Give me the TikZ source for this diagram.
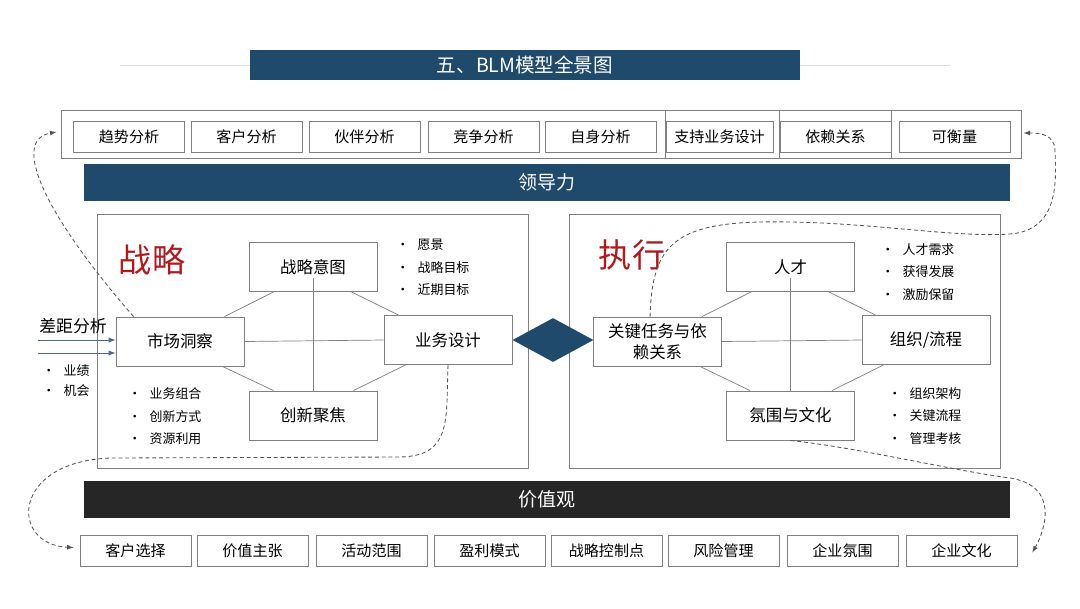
\documentclass[tikz,border=0pt]{standalone}
\usepackage{fontspec}
\setmainfont{Noto Sans CJK SC}
\usetikzlibrary{calc,shapes.geometric}
\definecolor{blmblue}{HTML}{1F4A6B}
\definecolor{blmdark}{HTML}{262626}
\definecolor{blmred}{HTML}{B0191E}
\definecolor{boxgray}{HTML}{808080}
\definecolor{dashgray}{HTML}{555555}
\definecolor{gapblue}{HTML}{4F6B8C}
\tikzset{
  topbox/.style={draw=boxgray, line width=0.6pt, fill=white, minimum width=2.775cm, minimum height=0.775cm, inner sep=0pt, font=\fontsize{10.7}{12}\selectfont},
  panelbox/.style={draw=boxgray, line width=0.6pt, fill=white, minimum width=3.2cm, minimum height=1.225cm, inner sep=0pt, align=center, font=\fontsize{11.7}{15}\selectfont},
  band/.style={minimum width=23.15cm, minimum height=0.925cm, inner sep=0pt, text=white, font=\fontsize{13.5}{15}\selectfont},
  panel/.style={draw=boxgray, line width=0.6pt, minimum width=10.775cm, minimum height=6.35cm},
  bullets/.style={align=left, inner sep=0pt, anchor=west, font=\fontsize{9.2}{16}\selectfont},
  link/.style={draw=boxgray, line width=0.5pt},
  gaparrow/.style={draw=gapblue, line width=0.7pt, -latex},
  feedback/.style={draw=dashgray, line width=0.6pt, dash pattern=on 2.8pt off 2pt, -latex},
}
\begin{document}
\begin{tikzpicture}[x=0.025cm, y=-0.025cm]
\fill[white] (0,0) rectangle (1080,608);
\useasboundingbox (0,0) rectangle (1080,608);

\node[fill=blmblue, minimum width=13.75cm, minimum height=0.75cm, inner sep=0pt, text=white, font=\fontsize{13.9}{15}\selectfont] (title) at (525,65) {五、BLM模型全景图};
\draw[gray!25] ($(title.west)+(-130,0)$) -- (title.west);
\draw[gray!25] (title.east) -- ($(title.east)+(150,0)$);

\node[draw=boxgray, line width=0.6pt, minimum width=23.975cm, minimum height=1.2cm] (analysis) at (541.5,134) {};
\node[topbox] (trend) at (129,136.5) {趋势分析};
\node[topbox] (client) at (246.5,136.5) {客户分析};
\node[topbox] (partner) at (364.5,136.5) {伙伴分析};
\node[topbox] (rival) at (483.5,136.5) {竞争分析};
\node[topbox] (self) at (600.5,136.5) {自身分析};
\node[topbox, minimum width=2.675cm] (supp) at (719.5,136.5) {支持业务设计};
\node[topbox] (dep) at (835.5,136.5) {依赖关系};
\node[topbox] (measure) at (954.5,136.5) {可衡量};
\draw[boxgray, line width=0.6pt] (supp.west |- analysis.north) -- (supp.west |- analysis.south);
\draw[boxgray, line width=0.6pt] (dep.west |- analysis.north) -- (dep.west |- analysis.south);
\draw[boxgray, line width=0.6pt] (dep.east |- analysis.north) -- (dep.east |- analysis.south);

\node[band, fill=blmblue] (lead) at (547,182.5) {领导力};

\node[panel] (strategy) at (312.5,341) {};
\node[panel] (execution) at (784.5,341) {};
\node[text=blmred, font=\fontsize{23.5}{26}\selectfont] (stratlabel) at (152,260) {战略};
\node[text=blmred, font=\fontsize{23.5}{26}\selectfont] (execlabel) at (632,255) {执行};

\node[panelbox] (intent) at (313,267) {战略意图};
\node[panelbox] (market) at (180,341.5) {市场洞察};
\node[panelbox] (design) at (448,340) {业务设计};
\node[panelbox] (focus) at (313,415.5) {创新聚焦};
\draw[link] ($(intent.south)+(0,-14)$) -- (focus.north);
\draw[link] (market.east) -- (design.west);
\draw[link] ($(intent.south west)+(25,0)$) -- ($(market.north east)+(-20,0)$);
\draw[link] ($(intent.south east)+(-26,0)$) -- ($(design.north west)+(15,0)$);
\draw[link] ($(market.south east)+(-22,0)$) -- ($(focus.north west)+(25,0)$);
\draw[link] ($(design.south west)+(22,0)$) -- ($(focus.north east)+(-24,0)$);

\node[panelbox] (talent) at (790.5,267) {人才};
\node[panelbox] (keytask) at (657.5,341.5) {关键任务与依\\赖关系};
\node[panelbox] (process) at (926,340) {组织/流程};
\node[panelbox] (climate) at (790.5,415.5) {氛围与文化};
\draw[link] ($(talent.south)+(0,-14)$) -- (climate.north);
\draw[link] (keytask.east) -- (process.west);
\draw[link] ($(talent.south west)+(25,0)$) -- ($(keytask.north east)+(-20,0)$);
\draw[link] ($(talent.south east)+(-26,0)$) -- ($(process.north west)+(14,0)$);
\draw[link] ($(keytask.south east)+(-22,0)$) -- ($(climate.north west)+(24,0)$);
\draw[link] ($(process.south west)+(22,0)$) -- ($(climate.north east)+(-23,0)$);

\node[diamond, fill=blmblue, minimum width=2.025cm, minimum height=1.1cm, inner sep=0pt] (bridge) at (553,340) {};

\node[bullets] (intentlist) at (396,267.5) {\textbullet\hspace{6pt}愿景\\\textbullet\hspace{6pt}战略目标\\\textbullet\hspace{6pt}近期目标};
\node[bullets] (focuslist) at (128,416.5) {\textbullet\hspace{6pt}业务组合\\\textbullet\hspace{6pt}创新方式\\\textbullet\hspace{6pt}资源利用};
\node[bullets] (talentlist) at (881,272) {\textbullet\hspace{6pt}人才需求\\\textbullet\hspace{6pt}获得发展\\\textbullet\hspace{6pt}激励保留};
\node[bullets] (processlist) at (888,416) {\textbullet\hspace{6pt}组织架构\\\textbullet\hspace{6pt}关键流程\\\textbullet\hspace{6pt}管理考核};
\node[bullets, font=\fontsize{9.2}{14.2}\selectfont] (gaplist) at (42,381) {\textbullet\hspace{6pt}业绩\\\textbullet\hspace{6pt}机会};

\node[anchor=west, inner sep=0pt, font=\fontsize{12}{14}\selectfont] (gap) at (39,326) {差距分析};
\coordinate (gapa) at (38,340);
\coordinate (gapb) at (38,353);
\draw[gaparrow] (gapa) -- (gapa -| market.west);
\draw[gaparrow] (gapb) -- (gapb -| market.west);

\node[band, fill=blmdark] (values) at (547,499) {价值观};

\node[topbox] (custsel) at (135.5,550.5) {客户选择};
\node[topbox] (valueprop) at (252.5,550.5) {价值主张};
\node[topbox] (scope) at (371.5,550.5) {活动范围};
\node[topbox] (profit) at (489.5,550.5) {盈利模式};
\node[topbox] (control) at (606.5,550.5) {战略控制点};
\node[topbox] (risk) at (723.5,550.5) {风险管理};
\node[topbox] (atmos) at (842.5,550.5) {企业氛围};
\node[topbox] (culture) at (961.5,550.5) {企业文化};

\draw[feedback] ($(market.north west)+(18,0)$) .. controls (45,215) and (10,140) .. ($(analysis.west)+(-5,-2)$);
\draw[feedback] (design.south) .. controls (446,420) and (452,456) .. (400,457) -- (110,458) .. controls (10,462) and (10,545) .. ($(custsel.west)+(-6,-3)$);
\draw[feedback] ($(keytask.north west)+(57,0)$) .. controls (652,250) and (670,224) .. (760,222) .. controls (860,220) and (950,238) .. (1010,234) .. controls (1060,230) and (1056,180) .. (1055,150) .. controls (1054,134) and (1040,133) .. ($(analysis.east)+(2,-1)$);
\draw[feedback] (climate.south) .. controls (860,448) and (950,470) .. (1010,478) .. controls (1060,486) and (1045,530) .. ($(culture.east)+(15,2)$);
\end{tikzpicture}
\end{document}
